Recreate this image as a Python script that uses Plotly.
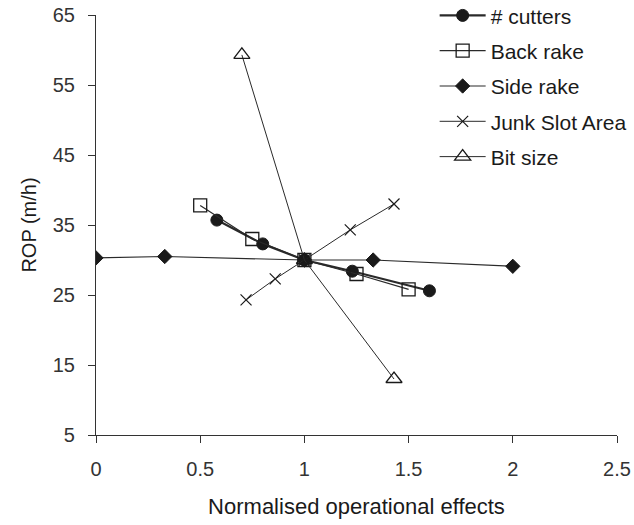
import plotly.graph_objects as go

# Normalised operational effect (x) and rate of penetration in m/h (y)
cutters_x = [0.58, 0.80, 1.00, 1.23, 1.60]
cutters_y = [35.7, 32.3, 30.0, 28.4, 25.6]

back_rake_x = [0.50, 0.75, 1.00, 1.25, 1.50]
back_rake_y = [37.8, 33.0, 30.0, 28.0, 25.8]

side_rake_x = [0.00, 0.33, 1.00, 1.33, 2.00]
side_rake_y = [30.3, 30.5, 30.0, 30.0, 29.1]

junk_slot_x = [0.72, 0.86, 1.00, 1.22, 1.43]
junk_slot_y = [24.3, 27.3, 30.0, 34.3, 38.0]

bit_size_x = [0.70, 1.00, 1.43]
bit_size_y = [59.3, 30.0, 13.0]

font = "Liberation Sans, Arial, sans-serif"
ink = "#1a1a1a"

series = [
    ("# cutters", cutters_x, cutters_y,
     dict(symbol="circle", size=12, color=ink, line=dict(color=ink, width=1)), 2.2),
    ("Back rake", back_rake_x, back_rake_y,
     dict(symbol="square-open", size=13, color=ink, line=dict(color=ink, width=1.3)), 1.2),
    ("Side rake", side_rake_x, side_rake_y,
     dict(symbol="diamond", size=11, color=ink, line=dict(color=ink, width=1)), 1.2),
    ("Junk Slot Area", junk_slot_x, junk_slot_y,
     dict(symbol="x-thin-open", size=11, color=ink, line=dict(color=ink, width=1.2)), 1.0),
    ("Bit size", bit_size_x, bit_size_y,
     dict(symbol="triangle-up-open", size=14, color=ink, line=dict(color=ink, width=1.3)), 1.0),
]

fig = go.Figure()
for i, (name, xs, ys, marker, lw) in enumerate(series):
    fig.add_trace(go.Scatter(
        x=xs, y=ys, name=name, mode="lines+markers",
        line=dict(color="#2a2a2a", width=lw),
        marker=marker,
        legendgroup=f"g{i}",
    ))

fig.update_layout(
    width=634, height=525,
    margin=dict(l=96, r=17, t=15, b=90, autoexpand=False),
    paper_bgcolor="white", plot_bgcolor="white",
    font=dict(family=font, size=20, color=ink),
    showlegend=True,
    legend=dict(
        x=0.65, y=1.047, xanchor="left", yanchor="top",
        bgcolor="rgba(0,0,0,0)", borderwidth=0,
        font=dict(family=font, size=21, color=ink),
        tracegroupgap=5, traceorder="grouped",
        itemwidth=46,
    ),
    xaxis=dict(
        range=[0, 2.5], tickvals=[0, 0.5, 1, 1.5, 2, 2.5],
        ticktext=["0", "0.5", "1", "1.5", "2", "2.5"],
        showgrid=False, zeroline=False, showline=True,
        linecolor="#333", linewidth=1.2,
        ticks="outside", ticklen=7, tickcolor="#333", tickwidth=1.2,
        ticklabelstandoff=9,
        tickfont=dict(size=20, color="#333"),
        title=dict(text="Normalised operational effects", font=dict(size=22, color=ink), standoff=19),
    ),
    yaxis=dict(
        range=[5, 65], tickvals=[5, 15, 25, 35, 45, 55, 65],
        showgrid=False, zeroline=False, showline=True,
        linecolor="#333", linewidth=1.2,
        ticks="outside", ticklen=7, tickcolor="#333", tickwidth=1.2,
        ticklabelstandoff=9,
        tickfont=dict(size=20, color="#333"),
        title=dict(text="ROP (m/h)", font=dict(size=20, color=ink), standoff=10),
    ),
)

fig.write_html("out.html")
